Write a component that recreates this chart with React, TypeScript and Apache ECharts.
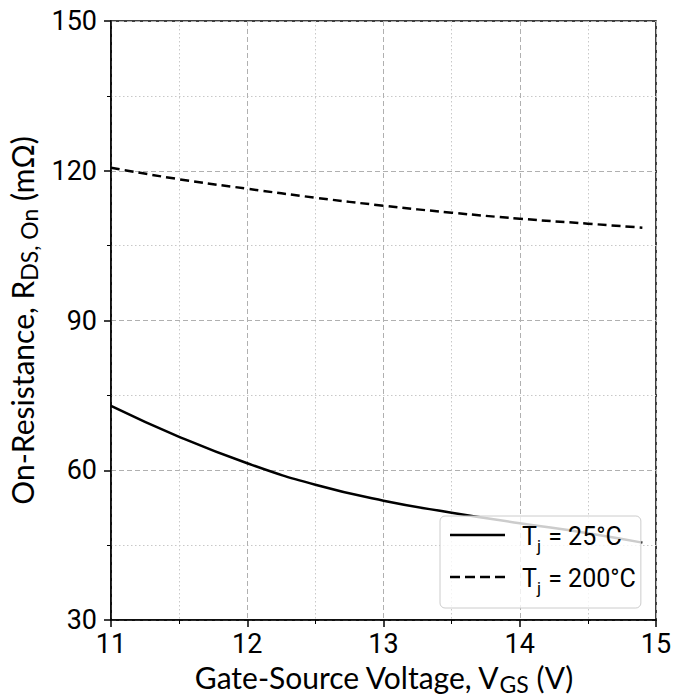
import React, { useEffect, useRef } from "react";
import * as echarts from "echarts";

const vgs = [11, 11.5, 12, 12.5, 13, 13.5, 14, 14.5, 14.9];
const r25 = [72.9, 66.7, 61.4, 57.1, 53.9, 51.5, 49.4, 47.4, 45.5];
const r200 = [120.6, 118.3, 116.4, 114.6, 113.0, 111.6, 110.4, 109.4, 108.6];
const xTicks = [11, 12, 13, 14, 15];
const yTicks = [30, 60, 90, 120, 150];
const legendNames = ["25", "200"];

const tickFont = "Roboto, sans-serif";
const titleFont = "Lato, sans-serif";

const solidIcon = "path://M0 0h55v2.5h-55z";
const dashIcon = "path://M0 0h10v2.5h-10z M15 0h10v2.5h-10z M30 0h10v2.5h-10z M45 0h10v2.5h-10z";

const titleRich = {
  a: { fontFamily: titleFont, fontSize: 30, color: "#000", lineHeight: 36, verticalAlign: "bottom" },
  s: { fontFamily: titleFont, fontSize: 23, color: "#000", lineHeight: 28, verticalAlign: "bottom", padding: [0, 0, -4, 0] },
};

export default function App() {
  const ref = useRef<HTMLDivElement>(null);
  useEffect(() => {
    if (!ref.current) return;
    const chart = echarts.init(ref.current, null, { renderer: "svg" });
    const pair = (xs: number[], ys: number[]) => xs.map((x, i) => [x, ys[i]]);
    const axisCommon = {
      type: "value",
      nameLocation: "middle",
      axisLine: { show: true, lineStyle: { color: "#000", width: 1.5 } },
      axisTick: { show: true, inside: false, length: 7, lineStyle: { color: "#000", width: 1.5 } },
      minorTick: { show: true, splitNumber: 2, length: 4, lineStyle: { color: "#000", width: 1 } },
      splitLine: { show: true, lineStyle: { color: "#b0b0b0", type: [5, 3], width: 1 } },
      minorSplitLine: { show: true, lineStyle: { color: "#c8c8c8", type: [1.5, 2.5], width: 1 } },
    };
    chart.setOption({
      animation: false,
      grid: {
        left: 111,
        right: 30,
        top: 21,
        bottom: 80,
        containLabel: false,
        outerBoundsMode: "none",
        show: true,
        borderColor: "#000",
        borderWidth: 1.5,
        backgroundColor: "transparent",
      },
      xAxis: {
        ...axisCommon,
        min: xTicks[0],
        max: xTicks[xTicks.length - 1],
        interval: 1,
        name: "{a|Gate-Source Voltage, V}{s|GS}{a| (V)}",
        nameGap: 35,
        nameTextStyle: { rich: titleRich },
        axisLabel: { fontFamily: tickFont, fontSize: 27, color: "#000", margin: 10 },
      },
      yAxis: {
        ...axisCommon,
        min: yTicks[0],
        max: yTicks[yTicks.length - 1],
        interval: 30,
        name: "{a|On-Resistance, R}{s|DS, On}{a| (mΩ)}",
        nameGap: 64,
        nameTextStyle: { rich: titleRich },
        axisLabel: { fontFamily: tickFont, fontSize: 27, color: "#000", margin: 14 },
      },
      legend: {
        orient: "vertical",
        left: 440,
        top: 516,
        padding: [8, 5, 12, 10],
        itemGap: 12,
        itemWidth: 55,
        itemHeight: 2.5,
        backgroundColor: "rgba(255,255,255,0.8)",
        borderColor: "#cccccc",
        borderWidth: 1,
        borderRadius: 5,
        data: [
          { name: legendNames[0], icon: solidIcon },
          { name: legendNames[1], icon: dashIcon },
        ],
        formatter: (name: string) => `{a|T}{s|j}{a| = ${name}°C}`,
        textStyle: {
          padding: [0, 0, 0, 12],
          rich: {
            a: { fontFamily: tickFont, fontSize: 25, color: "#000", lineHeight: 28, verticalAlign: "bottom" },
            s: { fontFamily: tickFont, fontSize: 17, color: "#000", lineHeight: 22, verticalAlign: "bottom", padding: [0, 1, -5, 0] },
          },
        },
      },
      series: [
        {
          name: legendNames[0],
          type: "line",
          data: pair(vgs, r25),
          smooth: true,
          showSymbol: false,
          symbol: "none",
          lineStyle: { color: "#000", width: 2.5, type: "solid" },
          itemStyle: { color: "#000" },
        },
        {
          name: legendNames[1],
          type: "line",
          data: pair(vgs, r200),
          smooth: true,
          showSymbol: false,
          symbol: "none",
          lineStyle: { color: "#000", width: 2.5, type: [9, 5] },
          itemStyle: { color: "#000" },
        },
      ],
    });
    return () => chart.dispose();
  }, []);
  return <div ref={ref} style={{ width: 686, height: 700, position: "absolute", left: 0, top: 0 }} />;
}
